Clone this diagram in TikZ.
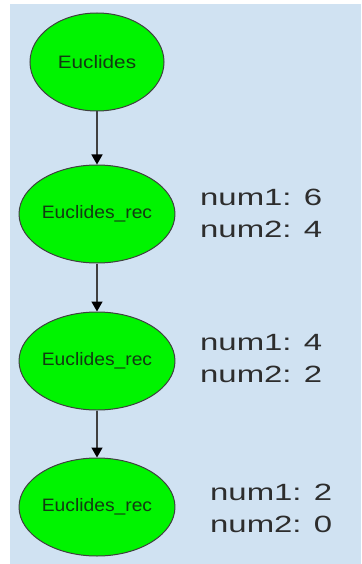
\documentclass[tikz,border=0pt]{standalone}
\usepackage{fontspec}
\setmainfont{Liberation Sans}
\usetikzlibrary{shapes.geometric, arrows.meta}
\definecolor{bgblue}{RGB}{208,226,242}
\definecolor{nodegreen}{RGB}{0,244,0}
\definecolor{edgegray}{RGB}{64,64,64}
\definecolor{textgreen}{RGB}{18,58,18}
\definecolor{lblgray}{RGB}{45,45,45}
\newcommand{\stretchtxt}[2][1.4]{\scalebox{#1}[1]{#2}}

\begin{document}
\begin{tikzpicture}[x=1pt,y=-1pt,
  fn/.style={ellipse, draw=edgegray, line width=1pt, fill=nodegreen, minimum width=134pt, minimum height=98pt, inner sep=0pt, text=textgreen, font=\fontsize{18}{20}\selectfont},
  lbl/.style={anchor=west, align=left, inner sep=0pt, text=lblgray, font=\fontsize{23.5}{32}\selectfont},
  call/.style={-{Triangle[length=10pt,width=11pt,color=black]}, draw=edgegray, line width=1.5pt}]
\useasboundingbox (0,0) rectangle (361,564);
\fill[bgblue] (10,4) rectangle (361,564);
% call chain
\node[fn] (e1) at (97,62) {\stretchtxt[1.15]{Euclides}};
\node[fn] (e2) at (97,214) {\stretchtxt[1.07]{Euclides\_rec}};
\node[fn] (e3) at (97,361) {\stretchtxt[1.07]{Euclides\_rec}};
\node[fn] (e4) at (97,507) {\stretchtxt[1.07]{Euclides\_rec}};
\draw[call] (e1) -- (e2); \draw[call] (e2) -- (e3); \draw[call] (e3) -- (e4);
% arguments
\node[lbl] (a2) at (200,213) {\stretchtxt{num1: 6}\\\stretchtxt{num2: 4}};
\node[lbl] (a3) at (200,359) {\stretchtxt{num1: 4}\\\stretchtxt{num2: 2}};
\node[lbl] (a4) at (210,508) {\stretchtxt{num1: 2}\\\stretchtxt{num2: 0}};
\end{tikzpicture}
\end{document}
